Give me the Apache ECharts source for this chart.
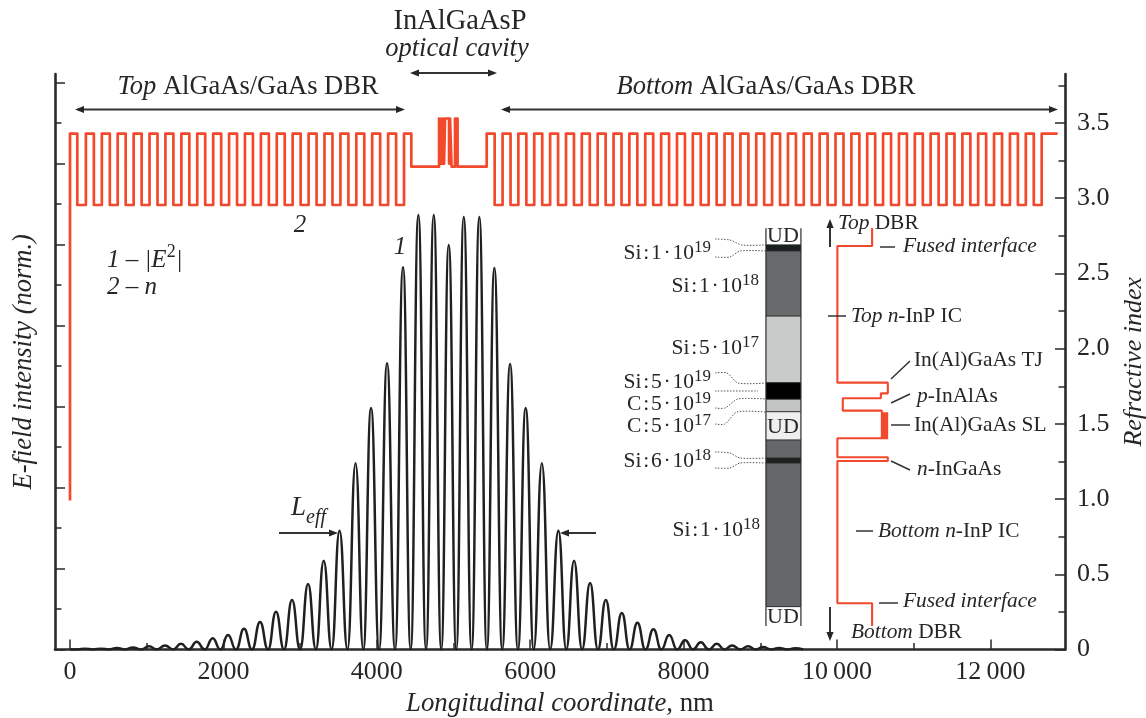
<!DOCTYPE html>
<html><head><meta charset="utf-8">
<style>html,body{margin:0;padding:0;background:#fff}#c{width:1146px;height:718px}</style>
<script src="https://cdn.jsdelivr.net/npm/echarts@6/dist/echarts.min.js"></script>
</head><body><div id="c"></div>
<script>
// ---------- tick labels ----------
const xMajorTicks = [0,2000,4000,6000,8000,10000,12000];
const xTickLabels = ['0','2000','4000','6000','8000','10\u2009000','12\u2009000'];
const xMinorTicks = [1000,3000,5000,7000,9000,11000];
const nMajorTicks = [0,0.5,1,1.5,2,2.5,3,3.5];
const nTickLabels = ['0','0.5','1.0','1.5','2.0','2.5','3.0','3.5'];
const nMinorTicks = [0.25,0.75,1.25,1.75,2.25,2.75,3.25,3.75];
const eMajorTicks = [0,0.2,0.4,0.6,0.8,1.0,1.2,1.4];
const eMinorTicks = [0.1,0.3,0.5,0.7,0.9,1.1,1.3];

// ---------- |E|^2: maxima and minima ----------
const ePeakX = [196,404,613,821,1030,1239,1447,1652,1861,2060,2269,2478,2686,2895,3104,3308,3514,3723,3925,4134,4342,4542,4743,4938,5134,5337,5533,5738,5941,6152,6368,6572,6781,6986,7195,7398,7607,7812,8020,8224,8433,8633,8842,9037,9246,9454];
const ePeakY = [.002,.002,.004,.005,.008,.010,.014,.019,.028,.036,.051,.068,.093,.122,.162,.219,.293,.460,.596,.707,.944,1.073,1.073,.999,1.068,1.068,.942,.705,.596,.460,.293,.219,.164,.122,.090,.066,.050,.036,.023,.018,.014,.010,.008,.006,.004,.003];
const eValleyX = [100,300,508,717,925,1134,1343,1549,1756,1960,2164,2373,2582,2790,3000,3206,3411,3618,3824,4030,4238,4442,4642,4840,5036,5236,5435,5635,5840,6046,6260,6470,6676,6883,7090,7296,7502,7710,7916,8122,8328,8533,8738,8940,9142,9350,9560];

// ---------- refractive index profile ----------
const nStartValue = 0.99;
const nHigh = 3.43, nLow = 2.955;
const topUp = [0,207,415,622,830,1037,1244,1452,1659,1867,2074,2281,2489,2696,2903,3111,3318,3526,3733,3940,4148,4355];
const topDown = [95,311,519,726,934,1141,1348,1556,1763,1971,2178,2385,2593,2800,3007,3215,3422,3630,3837,4044,4252,4450];
const cavityX = [4450,4812,4812,4825,4825,4838,4838,4851,4851,4864,4864,4877,4877,4890,4890,4942,4942,4955,4955,4975,4975,5020,5020,5053,5053,5433];
const cavityN = [3.21,3.21,3.53,3.53,3.23,3.23,3.53,3.53,3.23,3.23,3.53,3.53,3.23,3.23,3.53,3.53,3.23,3.23,3.53,3.53,3.21,3.21,3.53,3.53,3.21,3.21];
const bottomUp = [5433,5640,5846,6053,6260,6467,6673,6880,7087,7293,7500,7707,7914,8120,8327,8534,8741,8947,9154,9361,9567,9774,9981,10188,10394,10601,10808,11015,11221,11428,11635,11841,12048,12255,12462,12669];
const bottomDown = [5537,5744,5950,6157,6364,6571,6777,6984,7191,7397,7604,7811,8018,8224,8431,8638,8845,9051,9258,9465,9671,9878,10085,10292,10498,10705,10912,11119,11325,11532,11739,11945,12152,12359,12566,12877];

// ---------- inset: band profile beside the layer column ----------
const insetX = [10458,10458,10005,10005,10663,10663,10572,10572,10076,10076,10585,10585,10005,10005,10663,10663,10005,10005,10458,10458];
const insetN = [2.803,2.683,2.683,1.774,1.774,1.703,1.703,1.670,1.670,1.588,1.588,1.404,1.404,1.278,1.278,1.253,1.253,0.307,0.307,0.156];
const superlatticeX = [10622,10622];
const superlatticeN = [1.578,1.398];

// ---------- inset: doping layer column ----------
const columnX = [9074,9530];
const layerEdges = [2.800,2.690,2.650,2.217,1.774,1.664,1.581,1.393,1.273,1.240,0.285,0.156];
const layerShades = ['#ffffff','#1b1f1f','#676a6a','#c9cbcb','#000000','#c2c4c4','#efefef','#646868','#1d2020','#646868','#ffffff'];

// ---------- build series data ----------
const eField = [[0,0]];
ePeakX.forEach((x,i)=>{ eField.push([eValleyX[i],0]); eField.push([x,ePeakY[i]]); });
eField.push([eValleyX[eValleyX.length-1],0]);

const nProfile = [[0,nStartValue]];
topUp.forEach((u,i)=>{ nProfile.push([u,nHigh],[topDown[i],nHigh]); if(i<topUp.length-1) nProfile.push([topDown[i],nLow],[topUp[i+1],nLow]); });
cavityX.forEach((x,i)=>nProfile.push([x,cavityN[i]]));
bottomUp.forEach((u,i)=>{ nProfile.push([u,nHigh],[bottomDown[i],nHigh]); if(i<bottomUp.length-1) nProfile.push([bottomDown[i],nLow],[bottomUp[i+1],nLow]); });

const insetProfile = insetX.map((x,i)=>[x,insetN[i]]);
const superlattice = superlatticeX.map((x,i)=>[x,superlatticeN[i]]);
const layers = layerShades.map((s,i)=>[columnX[0],columnX[1],layerEdges[i],layerEdges[i+1],i]);

// ---------- styling helpers ----------
const SERIF = '"Liberation Serif","Times New Roman",serif';
const INK = '#262626', RED = '#f2492c';
const tok = (size,italic,extra)=>Object.assign({fontSize:size,fontFamily:SERIF,fontStyle:italic?'italic':'normal',fill:INK,color:INK},extra||{});
function text(x,y,str,size,align,rich,italic){
  return {type:'text',silent:true,z:50,style:{x,y,text:str,fill:INK,fontSize:size,fontFamily:SERIF,fontStyle:italic?'italic':'normal',
    textAlign:align||'left',textVerticalAlign:'middle',rich:rich||undefined}};
}
const r26 = {i:tok(26.5,true),r:tok(26.5,false)};
const r21 = {i:tok(21.4,true),r:tok(21.4,false)};
function supLabel(x,y,str,exp){
  return text(x,y,`{b|${str}}{s|${exp}}`,21,'right',{b:tok(21.5,false,{verticalAlign:'bottom',lineHeight:25}),s:tok(17,false,{verticalAlign:'top',lineHeight:25})});
}
function line(x1,y1,x2,y2,w,dash){
  return {type:'line',silent:true,z:48,shape:{x1,y1,x2,y2},style:{stroke:'#333',lineWidth:w||1.5,lineDash:dash||null}};
}
function head(x,y,dir){
  const L=9,W=3.6; let p;
  if(dir==='l')p=[[x,y],[x+L,y-W],[x+L,y+W]];
  if(dir==='r')p=[[x,y],[x-L,y-W],[x-L,y+W]];
  if(dir==='u')p=[[x,y],[x-W,y+L],[x+W,y+L]];
  if(dir==='d')p=[[x,y],[x-W,y-L],[x+W,y-L]];
  return {type:'polygon',silent:true,z:49,shape:{points:p},style:{fill:'#262626'}};
}
function dotted(pts){
  return {type:'polyline',silent:true,z:47,shape:{points:pts,smooth:0.25},style:{stroke:'#555',lineWidth:1,lineDash:[1.5,1.5],fill:null}};
}
const dose = (el,d)=>`${el}\u200A:\u200A${d}\u200A·\u200A10`;

const graphics = [
  text(460,22,'InAlGaAsP',28.5,'center'),
  text(457,49,'optical cavity',26.5,'center',null,true),
  text(248,87,'{i|Top} {r|AlGaAs/GaAs DBR}',26.5,'center',r26),
  text(766,87,'{i|Bottom} {r|AlGaAs/GaAs DBR}',26.5,'center',r26),
  line(78,109.5,400,109.5,2), head(75,109.5,'l'), head(405,109.5,'r'),
  line(504,109.5,1053,109.5,2), head(501,109.5,'l'), head(1058,109.5,'r'),
  line(413,73,492,73,2), head(410,73,'l'), head(497,73,'r'),
  text(107,258,'{a|1 – |E}{s|2}{a||}',25,'left',{a:tok(25,true,{verticalAlign:'bottom',lineHeight:29}),s:tok(18,false,{verticalAlign:'top',lineHeight:29})}),
  text(107,287,'2 – n',25,'left',null,true),
  text(300,225,'2',25,'center',null,true),
  text(400,247,'1',25,'center',null,true),
  text(291,511,'{a|L}{b|eff}',27,'left',{a:tok(27,true,{verticalAlign:'top',lineHeight:33}),b:tok(20,true,{verticalAlign:'bottom',lineHeight:33})}),
  line(279,533,332,533,2), head(338,533,'r'),
  line(566,533,596,533,2), head(560,533,'l'),
  supLabel(711,252,dose('Si','1'),'19'),
  supLabel(759,285,dose('Si','1'),'18'),
  supLabel(759,347,dose('Si','5'),'17'),
  supLabel(711,381,dose('Si','5'),'19'),
  supLabel(711,403,dose('C','5'),'19'),
  supLabel(711,425,dose('C','5'),'17'),
  supLabel(711,460,dose('Si','6'),'18'),
  supLabel(760,529,dose('Si','1'),'18'),
  text(783,236,'UD',22,'center'), text(783,427,'UD',22,'center'), text(783,617,'UD',22,'center'),
  dotted([[715,239],[730,240],[742,245],[766,245]]),
  dotted([[715,257],[730,257],[740,251],[766,251]]),
  dotted([[715,373],[727,373],[738,383],[766,383]]),
  dotted([[715,391],[758,391]]),
  dotted([[715,408],[725,408],[738,399],[766,399]]),
  dotted([[715,424],[725,424],[737,412],[766,412]]),
  dotted([[715,452],[730,453],[740,458],[766,458]]),
  dotted([[715,468],[730,468],[740,463],[766,463]]),
  line(830,247,830,225,2), head(830,219,'u'),
  line(830,607,830,634,2), head(830,641,'d'),
  text(838,223,'{i|Top} {r|DBR}',21.4,'left',r21),
  text(851,632,'{i|Bottom} {r|DBR}',21.4,'left',r21),
  line(880,247,895,247), text(903,246,'Fused interface',21.4,'left',null,true),
  line(828,316,846,316), text(851,316,'{i|Top n}{r|-InP IC}',21.4,'left',r21),
  line(891,379,910,361), text(914,360,'In(Al)GaAs TJ',21.4),
  line(891,403,910,394), text(917,396,'{i|p}{r|-InAlAs}',21.4,'left',r21),
  line(891,425,910,425), text(914,425,'In(Al)GaAs SL',21.4),
  line(891,461,910,470), text(917,469,'{i|n}{r|-InGaAs}',21.4,'left',r21),
  line(856,531,873,531), text(878,531,'{i|Bottom n}{r|-InP IC}',21.4,'left',r21),
  line(879,603,898,603), text(903,601,'Fused interface',21.4,'left',null,true),
];

const axisLine = {show:true,onZero:false,lineStyle:{color:'#2a2a2a',width:2.6}};
const X_MIN=-195.6, X_MAX=12973, E_MAX=1.421, N_MAX=3.826;
const hiddenAxisParts = {axisLine:{show:false,onZero:false},axisLabel:{show:false},splitLine:{show:false}};
const labelFont = {fontFamily:SERIF,fontSize:26,color:INK};
const tickMajor = {inside:true,length:10,lineStyle:{color:'#2a2a2a',width:1.5}};
const tickMinor = {inside:true,length:6.5,lineStyle:{color:'#2a2a2a',width:1.5}};

const option = {
  animation:false,
  backgroundColor:'#fff',
  grid:{left:55,right:81,top:74,bottom:68.5,show:false,outerBoundsMode:'none',containLabel:false},
  xAxis:[
    {type:'value',min:X_MIN,max:X_MAX,position:'bottom',axisLine,splitLine:{show:false},
     axisTick:Object.assign({customValues:xMajorTicks},tickMajor),
     axisLabel:Object.assign({customValues:xMajorTicks,margin:10,hideOverlap:false,showMinLabel:true,showMaxLabel:true,
       formatter:v=>xTickLabels[xMajorTicks.indexOf(v)]||''},labelFont),
     name:'{i|Longitudinal coordinate}{r|, nm}',nameLocation:'middle',nameGap:41,
     nameTextStyle:{rich:{i:tok(26.8,true),r:tok(26.8,false)}}},
    Object.assign({type:'value',min:X_MIN,max:X_MAX,position:'bottom',axisTick:Object.assign({customValues:xMinorTicks},tickMinor)},hiddenAxisParts)
  ],
  yAxis:[
    {type:'value',min:0,max:E_MAX,position:'left',axisLine,splitLine:{show:false},axisLabel:{show:false},
     axisTick:Object.assign({customValues:eMajorTicks},tickMajor),
     name:'E-field intensity (norm.)',nameLocation:'middle',nameGap:17,nameRotate:90,
     nameTextStyle:{fontFamily:SERIF,fontStyle:'italic',fontSize:26.5,color:INK}},
    {type:'value',min:0,max:N_MAX,position:'right',axisLine,splitLine:{show:false},
     axisTick:Object.assign({customValues:nMajorTicks},tickMajor),
     axisLabel:Object.assign({customValues:nMajorTicks,margin:12,formatter:v=>nTickLabels[nMajorTicks.indexOf(v)]||''},labelFont),
     name:'Refractive index',nameLocation:'middle',nameGap:56,nameRotate:90,
     nameTextStyle:{fontFamily:SERIF,fontStyle:'italic',fontSize:26,color:INK}},
    Object.assign({type:'value',min:0,max:E_MAX,position:'left',axisTick:Object.assign({customValues:eMinorTicks},tickMinor)},hiddenAxisParts),
    Object.assign({type:'value',min:0,max:N_MAX,position:'right',axisTick:Object.assign({customValues:nMinorTicks},tickMinor)},hiddenAxisParts)
  ],
  series:[
    {name:'|E|2',type:'line',xAxisIndex:0,yAxisIndex:0,data:eField,showSymbol:false,smooth:0.5,smoothMonotone:'x',
     lineStyle:{color:'#202020',width:2.5},z:3},
    {name:'n',type:'line',xAxisIndex:0,yAxisIndex:1,data:nProfile,showSymbol:false,lineStyle:{color:RED,width:2.7,join:'round'},z:4},
    {name:'layers',type:'custom',xAxisIndex:0,yAxisIndex:1,data:layers,z:5,clip:false,encode:{x:[0,1],y:[2,3]},
     renderItem:(p,api)=>{
       const a=api.coord([api.value(0),api.value(2)]), b=api.coord([api.value(1),api.value(3)]);
       const i=api.value(4);
       const kids=[{type:'rect',shape:{x:a[0],y:a[1],width:b[0]-a[0],height:b[1]-a[1]},style:{fill:layerShades[i]}},
         {type:'line',shape:{x1:a[0],y1:a[1],x2:a[0],y2:b[1]},style:{stroke:'#2a2a2a',lineWidth:1.2}},
         {type:'line',shape:{x1:b[0],y1:a[1],x2:b[0],y2:b[1]},style:{stroke:'#2a2a2a',lineWidth:1.2}}];
       if(i>0) kids.push({type:'line',shape:{x1:a[0],y1:a[1],x2:b[0],y2:a[1]},style:{stroke:'#2a2a2a',lineWidth:1}});
       return {type:'group',children:kids};
     }},
    {name:'inset',type:'line',xAxisIndex:0,yAxisIndex:1,data:insetProfile,showSymbol:false,lineStyle:{color:RED,width:2.1},z:6},
    {name:'superlattice',type:'line',xAxisIndex:0,yAxisIndex:1,data:superlattice,showSymbol:false,lineStyle:{color:RED,width:7,cap:'butt'},z:6}
  ],
  graphic:{elements:graphics}
};
const chart = echarts.init(document.getElementById('c'),null,{renderer:'canvas',width:1146,height:718});
chart.setOption(option);
</script></body></html>
